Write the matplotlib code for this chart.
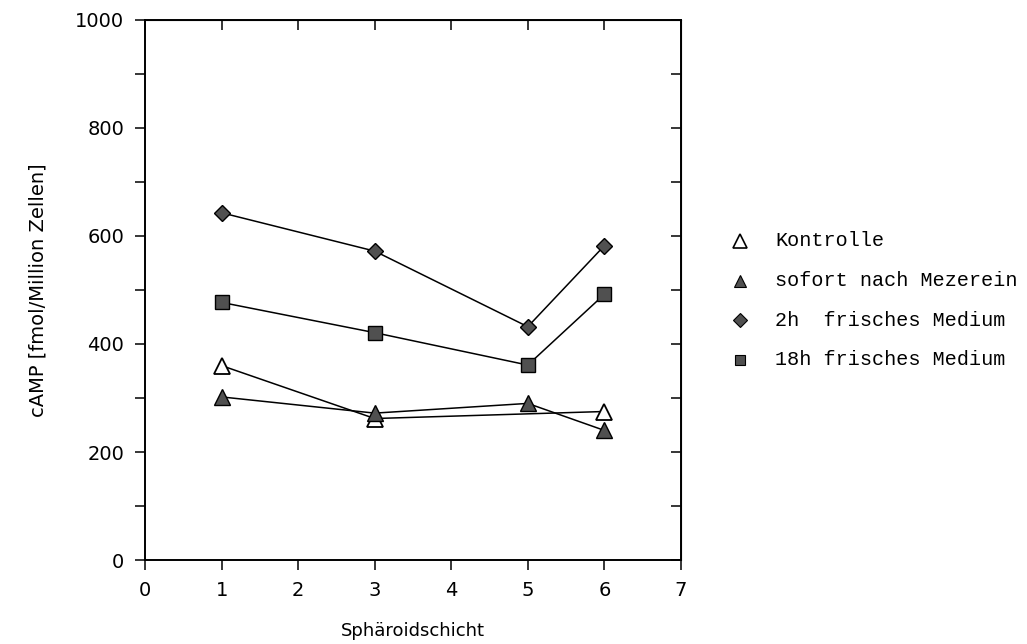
import numpy as np
import matplotlib
matplotlib.use("Agg")
import matplotlib.pyplot as plt
from matplotlib.ticker import MultipleLocator, FuncFormatter

# data
schicht = [1, 3, 5, 6]
kontrolle_x = [1, 3, 6]
kontrolle = [360, 262, 275]
sofort = [302, 272, 290, 240]
frisch_2h = [643, 572, 432, 582]
frisch_18h = [477, 421, 361, 492]

labels = ["Kontrolle", "sofort nach Mezerein", "2h  frisches Medium", "18h frisches Medium"]

fig = plt.figure(figsize=(10.27, 6.44), dpi=100)
ax = fig.add_axes([0.1412, 0.1304, 0.5218, 0.8386])

fill = "#505050"
ax.plot(kontrolle_x, kontrolle, color="black", lw=1.1, marker="^", ms=12,
        mfc="white", mec="black", mew=1.3)
ax.plot(schicht, sofort, color="black", lw=1.1, marker="^", ms=11,
        mfc=fill, mec="black", mew=1.0)
ax.plot(schicht, frisch_2h, color="black", lw=1.1, marker="D", ms=8.5,
        mfc=fill, mec="black", mew=1.0)
ax.plot(schicht, frisch_18h, color="black", lw=1.1, marker="s", ms=9.5,
        mfc=fill, mec="black", mew=1.0)

ax.set_xlim(0, 7)
ax.set_ylim(0, 1000)
ax.xaxis.set_major_locator(MultipleLocator(1))
ax.yaxis.set_major_locator(MultipleLocator(100))
ax.yaxis.set_major_formatter(FuncFormatter(lambda v, p: f"{int(v)}" if int(v) % 200 == 0 else ""))

for s in ax.spines.values():
    s.set_linewidth(1.4)

ax.tick_params(axis="both", which="major", direction="out", length=7, width=1.1,
               labelsize=14, pad=8)

# top and right ticks point inwards
top = ax.secondary_xaxis("top")
top.xaxis.set_major_locator(MultipleLocator(1))
top.tick_params(direction="in", length=7, width=1.1, labeltop=False)
right = ax.secondary_yaxis("right")
right.yaxis.set_major_locator(MultipleLocator(100))
right.tick_params(direction="in", length=7, width=1.1, labelright=False)

ax.set_xlabel("Sphäroidschicht", fontsize=13, labelpad=16)
ax.set_ylabel("cAMP [fmol/Million Zellen]", fontsize=14, labelpad=20)

# legend drawn to the right of the plot
leg_y = [241, 281, 320, 360]
styles = [
    dict(marker="^", ms=10, mfc="white", mec="black", mew=1.2),
    dict(marker="^", ms=9, mfc=fill, mec="black", mew=0.8),
    dict(marker="D", ms=7, mfc=fill, mec="black", mew=0.8),
    dict(marker="s", ms=7.5, mfc=fill, mec="black", mew=0.8),
]
for yy, lab, st in zip(leg_y, labels, styles):
    fy = 1 - yy / 644
    fig.lines.append(plt.Line2D([740 / 1027], [fy], transform=fig.transFigure,
                                linestyle="none", **st))
    fig.text(775 / 1027, fy, lab, fontsize=14.5, family="Liberation Mono",
             va="center", ha="left")

fig.savefig("out.png", dpi=100)
